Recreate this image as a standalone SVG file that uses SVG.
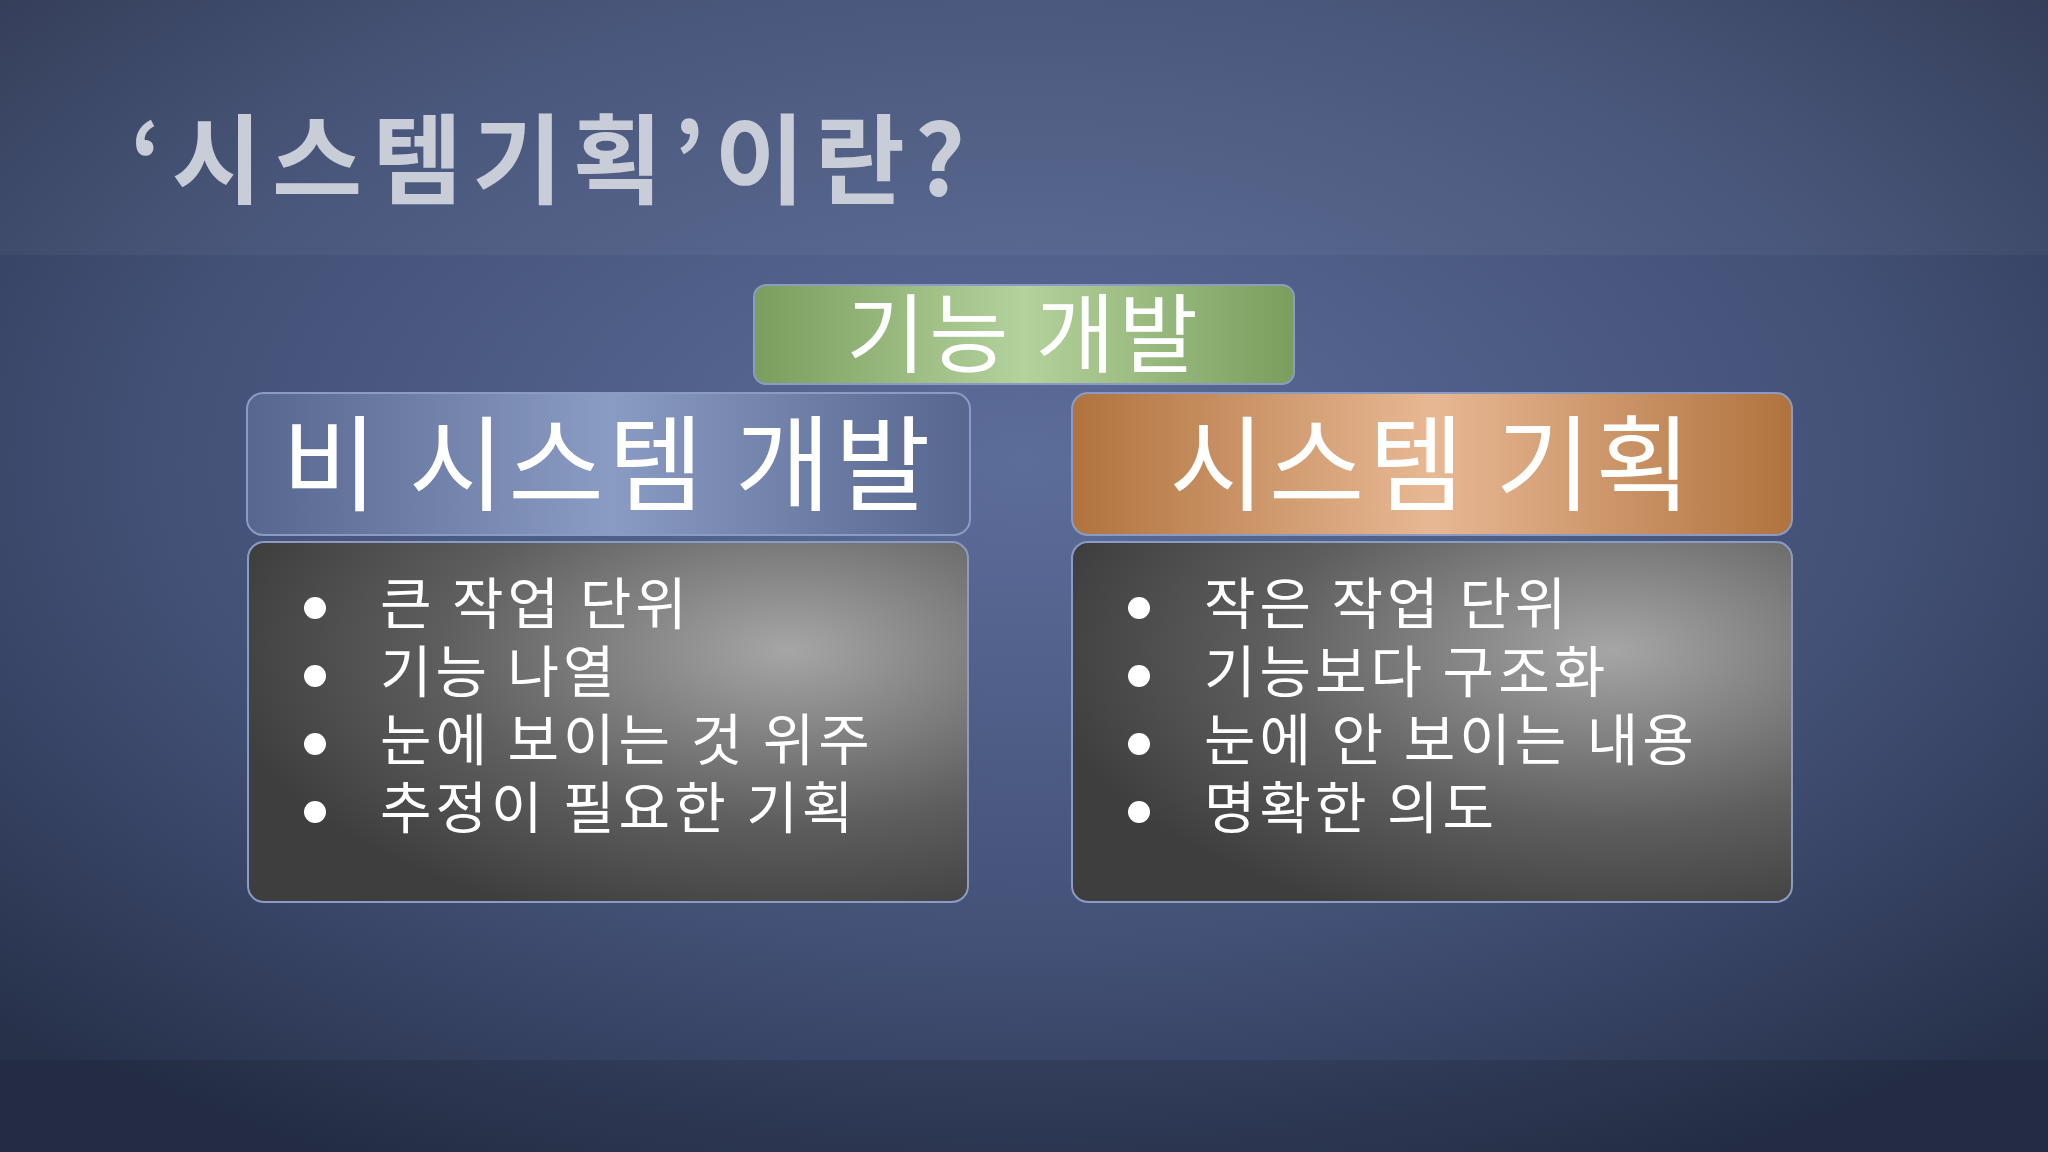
<svg xmlns="http://www.w3.org/2000/svg" width="2048" height="1152" viewBox="0 0 2048 1152">
<defs>
<radialGradient id="bg" cx="0.5" cy="0.4" r="0.7">
<stop offset="0" stop-color="#5d6d9a"/><stop offset="0.6" stop-color="#435177"/><stop offset="1" stop-color="#27314a"/>
</radialGradient>
<linearGradient id="gr" x1="0" x2="1"><stop offset="0" stop-color="#7a9e5e"/><stop offset="0.5" stop-color="#b4d29c"/><stop offset="1" stop-color="#7a9e5e"/></linearGradient>
<linearGradient id="bl" x1="0" x2="1"><stop offset="0" stop-color="#56668e"/><stop offset="0.5" stop-color="#8a9bc4"/><stop offset="1" stop-color="#56668e"/></linearGradient>
<linearGradient id="or" x1="0" x2="1"><stop offset="0" stop-color="#b0733e"/><stop offset="0.5" stop-color="#e8b894"/><stop offset="1" stop-color="#b0733e"/></linearGradient>
<radialGradient id="gy" cx="0.75" cy="0.3" r="0.8"><stop offset="0" stop-color="#a6a6a6"/><stop offset="0.6" stop-color="#5e5e5e"/><stop offset="1" stop-color="#3e3e3e"/></radialGradient>
<style>
.k{font-family:"Noto Sans CJK KR","Noto Sans",sans-serif;fill:#fff}
.h{font-size:104px;text-anchor:middle;letter-spacing:4px}
.b{font-size:56px;letter-spacing:4px}
.box{stroke:#8a9bc4;stroke-width:2}
</style>
</defs>
<rect width="2048" height="1152" fill="url(#bg)"/>
<rect width="2048" height="255" fill="#fff" opacity="0.04"/>
<rect y="1060" width="2048" height="92" fill="#000" opacity="0.1"/>
<text class="k" x="130" y="196" font-size="98" font-weight="bold" letter-spacing="10" style="fill:#c8cdd8">‘시스템기획’이란?</text>
<g id="top"><rect x="754" y="285" width="540" height="99" rx="12" fill="url(#gr)" class="box"/><text class="k" x="1024" y="366" font-size="86" text-anchor="middle" letter-spacing="4">기능 개발</text></g>
<g id="left-head"><rect x="247" y="393" width="723" height="142" rx="16" fill="url(#bl)" class="box"/><text class="k h" x="608" y="503">비 시스템 개발</text></g>
<g id="right-head"><rect x="1072" y="393" width="720" height="142" rx="16" fill="url(#or)" class="box"/><text class="k h" x="1432" y="503">시스템 기획</text></g>
<g id="left-body"><rect x="248" y="542" width="720" height="360" rx="16" fill="url(#gy)" class="box"/>
<g fill="#fff"><circle cx="315" cy="608" r="11"/><circle cx="315" cy="676" r="11"/><circle cx="315" cy="744" r="11"/><circle cx="315" cy="812" r="11"/></g>
<text class="k b" x="380" y="624">큰 작업 단위</text><text class="k b" x="380" y="692">기능 나열</text><text class="k b" x="380" y="760">눈에 보이는 것 위주</text><text class="k b" x="380" y="828">추정이 필요한 기획</text></g>
<g id="right-body"><rect x="1072" y="542" width="720" height="360" rx="16" fill="url(#gy)" class="box"/>
<g fill="#fff"><circle cx="1139" cy="608" r="11"/><circle cx="1139" cy="676" r="11"/><circle cx="1139" cy="744" r="11"/><circle cx="1139" cy="812" r="11"/></g>
<text class="k b" x="1204" y="624">작은 작업 단위</text><text class="k b" x="1204" y="692">기능보다 구조화</text><text class="k b" x="1204" y="760">눈에 안 보이는 내용</text><text class="k b" x="1204" y="828">명확한 의도</text></g>
<g id="connectors"/>
</svg>
